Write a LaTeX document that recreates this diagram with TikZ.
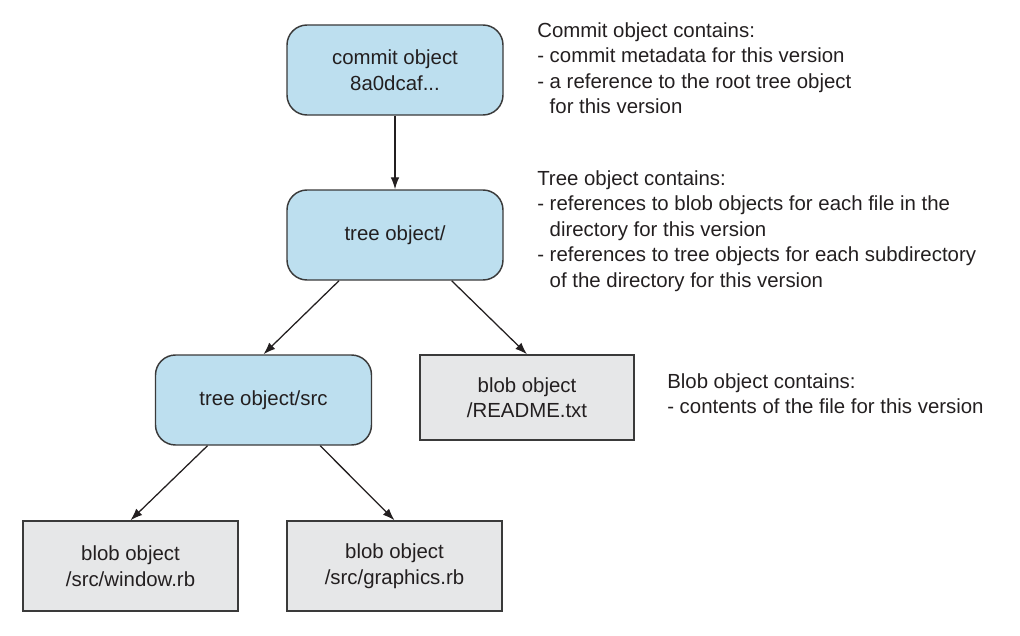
\documentclass[tikz,border=0pt]{standalone}
\usepackage{fontspec}
\setmainfont{Liberation Sans}
\usetikzlibrary{arrows.meta}
\definecolor{blobfill}{HTML}{E6E7E8}
\definecolor{treefill}{HTML}{BDDFEF}
\definecolor{ink}{HTML}{231F20}
\definecolor{edge}{HTML}{3A3A3A}
\begin{document}
\begin{tikzpicture}[x=0.75pt,y=-0.75pt,
  every node/.style={font=\fontsize{15.3}{19.1}\selectfont, text=ink},
  treebox/.style={draw=edge, line width=1.1pt, fill=treefill, rounded corners=15pt,
    align=center, minimum width=162pt, minimum height=67.5pt, inner sep=0pt},
  blobbox/.style={draw=edge, line width=1.1pt, fill=blobfill,
    align=center, minimum width=161.25pt, minimum height=67.5pt, inner sep=0pt},
  note/.style={align=left, inner sep=0pt, anchor=base west},
  conn/.style={draw=ink, line width=0.95pt, -{Latex[length=9pt,width=6.5pt]}}]
\useasboundingbox (0,0) rectangle (1020,635);

\node[treebox] (commit) at (395,70) {commit object\\8a0dcaf...};
\node[treebox] (tree) at (395,235) {tree object/};
\node[treebox] (src) at (263.5,400) {tree object/src};
\node[blobbox, minimum width=160.5pt, minimum height=63.75pt] (readme) at (527,397.5) {blob object\\/README.txt};
\node[blobbox] (window) at (130.5,566) {blob object\\/src/window.rb};
\node[blobbox] (graphics) at (394.5,566) {blob object\\/src/graphics.rb};

\draw[conn] (commit.south) -- (tree.north);
\draw[conn] ([xshift=-42pt]tree.south) -- (src.north);
\draw[conn] ([xshift=42.5pt]tree.south) -- (readme.north);
\draw[conn] ([xshift=-42pt]src.south) -- (window.north);
\draw[conn] ([xshift=42.5pt]src.south) -- (graphics.north);

% base anchor of a multi-line node is the baseline of its last line
\node[note] (commitnote) at (537,113.5) {Commit object contains:\\- commit metadata for this version\\- a reference to the root tree object\\\hphantom{- }for this version};
\node[note] (treenote) at (537,287) {Tree object contains:\\- references to blob objects for each file in the\\\hphantom{- }directory for this version\\- references to tree objects for each subdirectory\\\hphantom{- }of the directory for this version};
\node[note] (blobnote) at (667,413.5) {Blob object contains:\\- contents of the file for this version};
\end{tikzpicture}
\end{document}
